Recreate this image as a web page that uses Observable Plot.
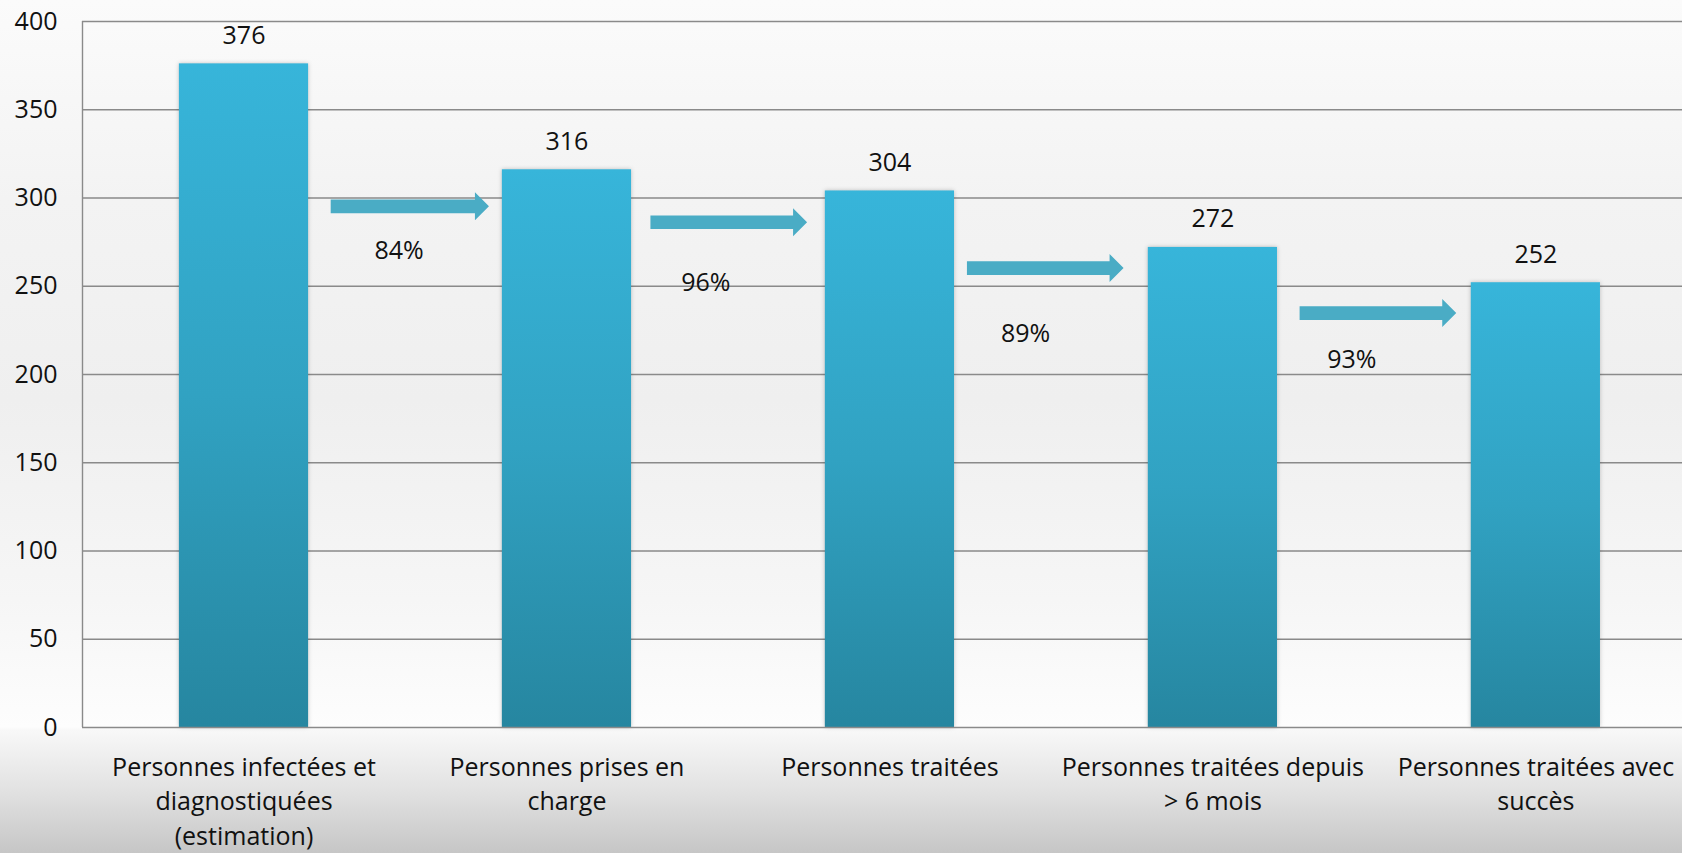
<!DOCTYPE html>
<html>
<head>
<meta charset="utf-8">
<script src="https://cdn.jsdelivr.net/npm/d3@7"></script>
<script src="https://cdn.jsdelivr.net/npm/@observablehq/plot@0.6"></script>
<style>
  html, body { margin: 0; padding: 0; overflow: hidden; }
  body {
    width: 1682px; height: 853px;
    background: linear-gradient(to bottom, #fbfbfb 0px, #f3f3f3 200px, #efefef 400px, #f6f6f6 600px, #fdfdfd 727px, #f8f8f8 730px, #e2e2e2 790px, #c6c6c6 853px);
    font-family: "Open Sans", sans-serif;
  }
  .bars rect { filter: drop-shadow(0 0 2px rgba(0,0,0,0.22)); }
</style>
</head>
<body>
<div id="chart"></div>
<script>
const categories = [
  "Personnes infectées et\ndiagnostiquées\n(estimation)",
  "Personnes prises en\ncharge",
  "Personnes traitées",
  "Personnes traitées depuis\n> 6 mois",
  "Personnes traitées avec\nsuccès"
];
const values = [376, 316, 304, 272, 252];
const rates = ["84%", "96%", "89%", "93%"];
const arrowLevel = [295, 286, 260, 234.5];
const arrowFrom = [0.27, 1.26, 2.24, 3.27];
const arrowTo = [0.76, 1.745, 2.725, 3.755];
const rateX = [0.48, 1.43, 2.42, 3.43];
const rateY = [270, 252, 223, 208];
const yTicks = [0, 50, 100, 150, 200, 250, 300, 350, 400];

const bars = values.map((v, i) => ({i, v}));
const arrows = rates.map((r, i) => ({from: arrowFrom[i], to: arrowTo[i], level: arrowLevel[i]}));
const rateLabels = rates.map((r, i) => ({x: rateX[i], y: rateY[i], label: r}));

const defs = () => {
  const d = d3.create("svg:defs");
  const g = d.append("linearGradient").attr("id", "barGrad")
    .attr("x1", 0).attr("y1", 0).attr("x2", 0).attr("y2", 1);
  g.append("stop").attr("offset", "0%").attr("stop-color", "#37b5da");
  g.append("stop").attr("offset", "50%").attr("stop-color", "#31a2c2");
  g.append("stop").attr("offset", "100%").attr("stop-color", "#2686a0");
  return d.node();
};

const blockArrows = Plot.link(arrows, {
  x1: "from", x2: "to", y1: "level", y2: "level",
  render(index, scales, vals) {
    const g = d3.create("svg:g");
    const sh = 6.8, hh = 14, hl = 14;
    for (const i of index) {
      const x1 = vals.x1[i], x2 = vals.x2[i], y = vals.y1[i];
      g.append("path")
        .attr("d", `M${x1},${y - sh}H${x2 - hl}V${y - hh}L${x2},${y}L${x2 - hl},${y + hh}V${y + sh}H${x1}Z`)
        .attr("fill", "#4aacc5");
    }
    return g.node();
  }
});

const chart = Plot.plot({
  width: 1682,
  height: 853,
  marginLeft: 82,
  marginRight: 0,
  marginTop: 21,
  marginBottom: 126,
  style: {background: "transparent", fontFamily: "Open Sans, sans-serif", fontSize: "25px", color: "#111"},
  x: {domain: [-0.5, 4.454], axis: null},
  y: {domain: [0, 400], axis: null},
  marks: [
    defs,
    Plot.ruleY(yTicks.filter(t => t > 0), {stroke: "#8a8a8a", strokeWidth: 1.4}),
    Plot.ruleX([-0.5], {stroke: "#8a8a8a", strokeWidth: 1.4}),
    Plot.rectY(bars, {x1: d => d.i - 0.2, x2: d => d.i + 0.2, y1: 0, y2: "v", fill: "url(#barGrad)", className: "bars"}),
    Plot.ruleY([0], {stroke: "#8a8a8a", strokeWidth: 1.6}),
    Plot.axisY({ticks: yTicks, tickSize: 0, tickPadding: 25, fontSize: 25, fill: "#111", label: null}),
    Plot.axisX({ticks: [0, 1, 2, 3, 4], tickFormat: i => categories[i], tickSize: 0, tickPadding: 24, fontSize: 25, lineHeight: 1.38, fill: "#111", label: null}),
    Plot.text(bars, {x: "i", y: "v", text: d => String(d.v), dy: -28, fontSize: 25, fill: "#111"}),
    blockArrows,
    Plot.text(rateLabels, {x: "x", y: "y", text: "label", fontSize: 25, fill: "#111"})
  ]
});
document.getElementById("chart").append(chart);
</script>
</body>
</html>
